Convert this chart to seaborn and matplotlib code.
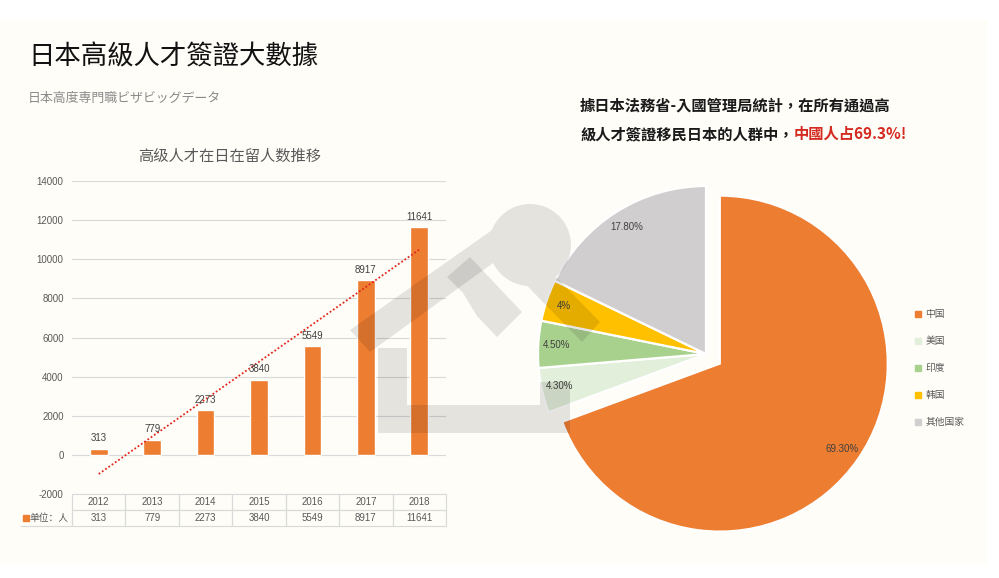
import matplotlib
matplotlib.use("Agg")
import matplotlib.pyplot as plt
from matplotlib.patches import Rectangle, Polygon, PathPatch
from matplotlib.path import Path
from matplotlib.lines import Line2D
import seaborn as sns
import numpy as np
import pandas as pd

# --- data ---
years = ["2012", "2013", "2014", "2015", "2016", "2017", "2018"]
counts = [313, 779, 2273, 3840, 5549, 8917, 11641]
y_ticks = [-2000, 0, 2000, 4000, 6000, 8000, 10000, 12000, 14000]

countries = ["中国", "美国", "印度", "韩国", "其他国家"]
shares = [69.3, 4.3, 4.5, 4.0, 17.8]
share_labels = ["69.30%", "4.30%", "4.50%", "4%", "17.80%"]

orange = "#ED7D31"
pie_colors = ["#ED7D31", "#E2EFDA", "#A9D18E", "#FFC000", "#D0CECE"]

sns.set_theme(style="white")
plt.rcParams["font.family"] = ["Noto Sans CJK SC", "DejaVu Sans"]
plt.rcParams["axes.unicode_minus"] = False
num_font = ["Liberation Sans", "DejaVu Sans"]
tc_font = ["Noto Sans CJK TC", "DejaVu Sans"]

W, H = 999, 578
fig = plt.figure(figsize=(W / 100, H / 100), dpi=100)
fig.patch.set_facecolor("white")


def fx(px):
    return px / W


def fy(py):
    return 1 - py / H


# cream card behind everything
fig.add_artist(Rectangle((0, fy(565)), fx(987), (565 - 20) / H, transform=fig.transFigure,
                         facecolor="#FEFDF8", edgecolor="none", zorder=-10))

# --- headings ---
fig.text(fx(28), fy(57), "日本高級人才簽證大數據", fontsize=19, weight="medium",
         color="#111111", va="center", family=tc_font)
fig.text(fx(28), fy(98), "日本高度専門職ビザビッグデータ", fontsize=9.3,
         color="#8A8A8A", va="center", family=["Noto Sans CJK JP", "DejaVu Sans"])

t1 = fig.text(fx(580), fy(106), "據日本法務省-入國管理局統計，在所有通過高", fontsize=11,
              weight="bold", color="#1A1A1A", va="center", family=tc_font)
t2 = fig.text(fx(580), fy(134), "級人才簽證移民日本的人群中，", fontsize=11,
              weight="bold", color="#1A1A1A", va="center", family=tc_font)

# --- bar chart ---
ax = fig.add_axes([fx(72), fy(494), fx(446) - fx(72), (494 - 181) / H])
ax.set_facecolor("none")
df = pd.DataFrame({"year": years, "count": counts})
sns.barplot(data=df, x="year", y="count", color=orange, saturation=1, width=0.33,
            ax=ax, zorder=3)

x = np.arange(len(counts))
coef = np.polyfit(x, counts, 1)
ax.plot(x, np.polyval(coef, x), color="#E3261C", ls=(0, (1, 1.2)), lw=1.3, zorder=4)

for i, v in enumerate(counts):
    ax.annotate(str(v), (i, v), xytext=(0, 4), textcoords="offset points", ha="center",
                va="bottom", fontsize=7, color="#404040", family=num_font, zorder=5)

ax.set_ylim(-2000, 14000)
ax.set_xlim(-0.5, 6.5)
ax.set_yticks(y_ticks)
ax.yaxis.grid(True, color="#D9D9D9", lw=0.8)
ax.set_axisbelow(True)
ax.tick_params(axis="x", labelbottom=False, length=0)
ax.tick_params(axis="y", length=0, pad=6, labelsize=7, labelcolor="#595959")
for lbl in ax.get_yticklabels():
    lbl.set_fontfamily(num_font)
ax.set_xlabel("")
ax.set_ylabel("")
for s in ax.spines.values():
    s.set_visible(False)

fig.text(fx(230), fy(156), "高级人才在日在留人数推移", fontsize=11, color="#595959",
         ha="center", va="center")

# data table under the bars
cell_text = [[""] + years, ["单位：人"] + [str(c) for c in counts]]
col_w = [52] + [374 / 7] * 7
tbl = ax.table(cellText=cell_text, cellLoc="center", colWidths=[w / sum(col_w) for w in col_w],
               bbox=[-52 / 374, -32 / 313, 426 / 374, 32 / 313])
tbl.auto_set_font_size(False)
for (r, c), cell in tbl.get_celld().items():
    cell.set_edgecolor("#D9D9D9")
    cell.set_linewidth(0.8)
    cell.set_facecolor("none")
    txt = cell.get_text()
    txt.set_fontsize(7)
    txt.set_color("#595959")
    if c == 0:
        cell.visible_edges = "" if r == 0 else "BR"
        cell.set_text_props(ha="right")
        cell.PAD = 0.06
    else:
        txt.set_fontfamily(num_font)
fig.add_artist(Line2D([fx(25.5)], [fy(518)], marker="s", markersize=4, ls="",
                      color=orange, transform=fig.transFigure))

# --- pie chart ---
R = 168
box = 2.4 * R
ax2 = fig.add_axes([fx(706 - box / 2), fy(354 + box / 2), box / W, box / H])
ax2.set_facecolor("none")
wedges, _, autotexts = ax2.pie(
    shares, colors=pie_colors, startangle=90, counterclock=False,
    explode=[0.1, 0, 0, 0, 0], autopct="%1.1f%%", pctdistance=0.89,
    wedgeprops=dict(edgecolor="white", linewidth=1.6),
    textprops=dict(fontsize=7, color="#404040", family=num_font))
for t, s in zip(autotexts, share_labels):
    t.set_text(s)
ax2.set_xlim(-1.2, 1.2)
ax2.set_ylim(-1.2, 1.2)
ax2.set_aspect("equal")

handles = [Line2D([], [], marker="s", ls="", color=c, markersize=4) for c in pie_colors]
fig.legend(handles, countries, loc="center left", bbox_to_anchor=(fx(906), fy(368)),
           frameon=False, fontsize=7, labelspacing=1.75, handlelength=0.6,
           handletextpad=0.5, labelcolor="#595959")

ax2.annotate("中國人占69.3%!", xy=(1, 0), xycoords=t2, va="bottom", ha="left",
             fontsize=11, weight="bold", color="#D42A20", family=tc_font,
             annotation_clip=False)

# --- faint house watermark over both charts ---
axw = fig.add_axes([0, 0, 1, 1], zorder=10)
axw.set_xlim(0, W)
axw.set_ylim(H, 0)
axw.axis("off")
axw.set_facecolor("none")
roof_pts = [(350, 330), (495, 228), (508, 228), (600, 322), (582, 342), (500, 258), (370, 352)]
roof = Polygon(roof_pts).get_path()
mark = Path.make_compound_path(roof, Path.circle((530, 245), 41))
axw.add_patch(PathPatch(mark, facecolor="black", edgecolor="none", alpha=0.1))
axw.add_patch(Polygon([(378, 348), (407, 348), (407, 405), (540, 405), (540, 382), (570, 382),
                       (570, 433), (378, 433)], facecolor="black", edgecolor="none", alpha=0.1))
axw.add_patch(Polygon([(447, 277), (470, 257), (522, 312), (497, 337), (477, 316), (463, 293)],
                      facecolor="black", edgecolor="none", alpha=0.1))

fig.savefig("out.png", dpi=100)
